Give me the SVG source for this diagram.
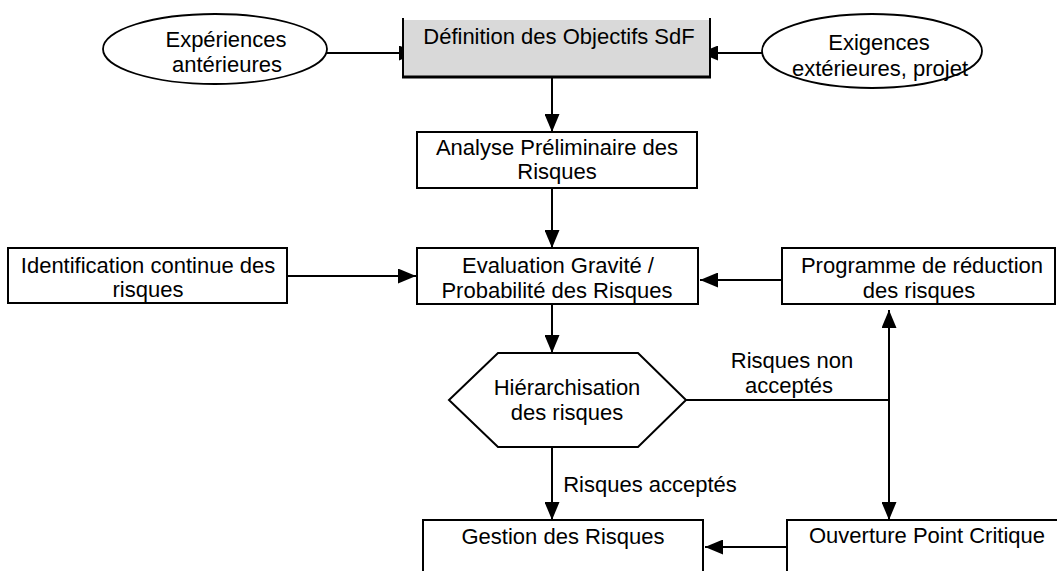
<svg xmlns="http://www.w3.org/2000/svg" width="1057" height="571" viewBox="0 0 1057 571">
  <defs>
    <marker id="arrow" markerUnits="userSpaceOnUse" markerWidth="18" markerHeight="15" refX="18" refY="7.5" orient="auto">
      <path d="M0,0 L18,7.5 L0,15 z" fill="#000"/>
    </marker>
    <style>
      text { font-family: "Liberation Sans", Arial, sans-serif; font-size: 22px; fill: #000; text-anchor: middle; }
      .box { fill: #fff; stroke: #000; stroke-width: 2; }
      .oval { fill: #fff; stroke: #000; stroke-width: 1.8; }
      .edge { fill: none; stroke: #000; stroke-width: 2; }
      .arrow { marker-end: url(#arrow); }
    </style>
  </defs>
  <rect width="1057" height="571" fill="#fff"/>

  <!-- connectors -->
  <g id="connectors">
    <line class="edge arrow" x1="327" y1="53" x2="417" y2="53"/>
    <line class="edge arrow" x1="762" y1="53" x2="700" y2="53"/>
    <line class="edge arrow" x1="552" y1="78" x2="552" y2="132"/>
    <line class="edge arrow" x1="552" y1="188" x2="552" y2="248"/>
    <line class="edge arrow" x1="287" y1="276" x2="416" y2="276"/>
    <line class="edge arrow" x1="782" y1="280" x2="700" y2="280"/>
    <line class="edge arrow" x1="552" y1="304" x2="552" y2="353"/>
    <line class="edge" x1="686" y1="400" x2="889" y2="400"/>
    <line class="edge arrow" x1="889" y1="400" x2="889" y2="310"/>
    <line class="edge arrow" x1="889" y1="400" x2="889" y2="520"/>
    <line class="edge arrow" x1="552" y1="447" x2="552" y2="520"/>
    <line class="edge arrow" x1="787" y1="547" x2="705" y2="547"/>
    <text x="792" y="368">Risques non</text>
    <text x="789" y="393">acceptés</text>
    <text x="650" y="492">Risques acceptés</text>
  </g>

  <g id="experiences">
    <ellipse class="oval" cx="215" cy="49" rx="112" ry="35"/>
    <text x="226" y="47">Expériences</text>
    <text x="227" y="72">antérieures</text>
  </g>

  <g id="objectifs">
    <rect x="403" y="20" width="307" height="57" fill="#d9d9d9"/>
    <line x1="403" y1="18" x2="403" y2="78" stroke="#000" stroke-width="2"/>
    <line x1="710" y1="18" x2="710" y2="78" stroke="#000" stroke-width="2"/>
    <line x1="402" y1="77" x2="711" y2="77" stroke="#000" stroke-width="3"/>
    <text x="559" y="44">Définition des Objectifs SdF</text>
  </g>

  <g id="exigences">
    <ellipse class="oval" cx="872" cy="51" rx="110" ry="37"/>
    <text x="879" y="50">Exigences</text>
    <text x="880" y="76">extérieures, projet</text>
  </g>

  <g id="apr">
    <rect class="box" x="417" y="132" width="280" height="56"/>
    <text x="557" y="155">Analyse Préliminaire des</text>
    <text x="557" y="179">Risques</text>
  </g>

  <g id="identification">
    <rect class="box" x="8" y="248" width="279" height="55"/>
    <text x="148" y="273">Identification continue des</text>
    <text x="148" y="297">risques</text>
  </g>

  <g id="evaluation">
    <rect class="box" x="417" y="248" width="281" height="56"/>
    <text x="558" y="273">Evaluation Gravité /</text>
    <text x="557" y="298">Probabilité des Risques</text>
  </g>

  <g id="programme">
    <rect class="box" x="782" y="248" width="273" height="56"/>
    <text x="922" y="273">Programme de réduction</text>
    <text x="919" y="298">des risques</text>
  </g>

  <g id="hierarchisation">
    <polygon class="box" points="498,353 638,353 686,400 638,447 498,447 449,400"/>
    <text x="567" y="395">Hiérarchisation</text>
    <text x="567" y="420">des risques</text>
  </g>

  <g id="gestion">
    <rect class="box" x="423" y="520" width="280" height="80"/>
    <text x="563" y="544">Gestion des Risques</text>
  </g>

  <g id="ouverture">
    <rect class="box" x="787" y="520" width="300" height="80"/>
    <text x="927" y="543">Ouverture Point Critique</text>
  </g>
</svg>
